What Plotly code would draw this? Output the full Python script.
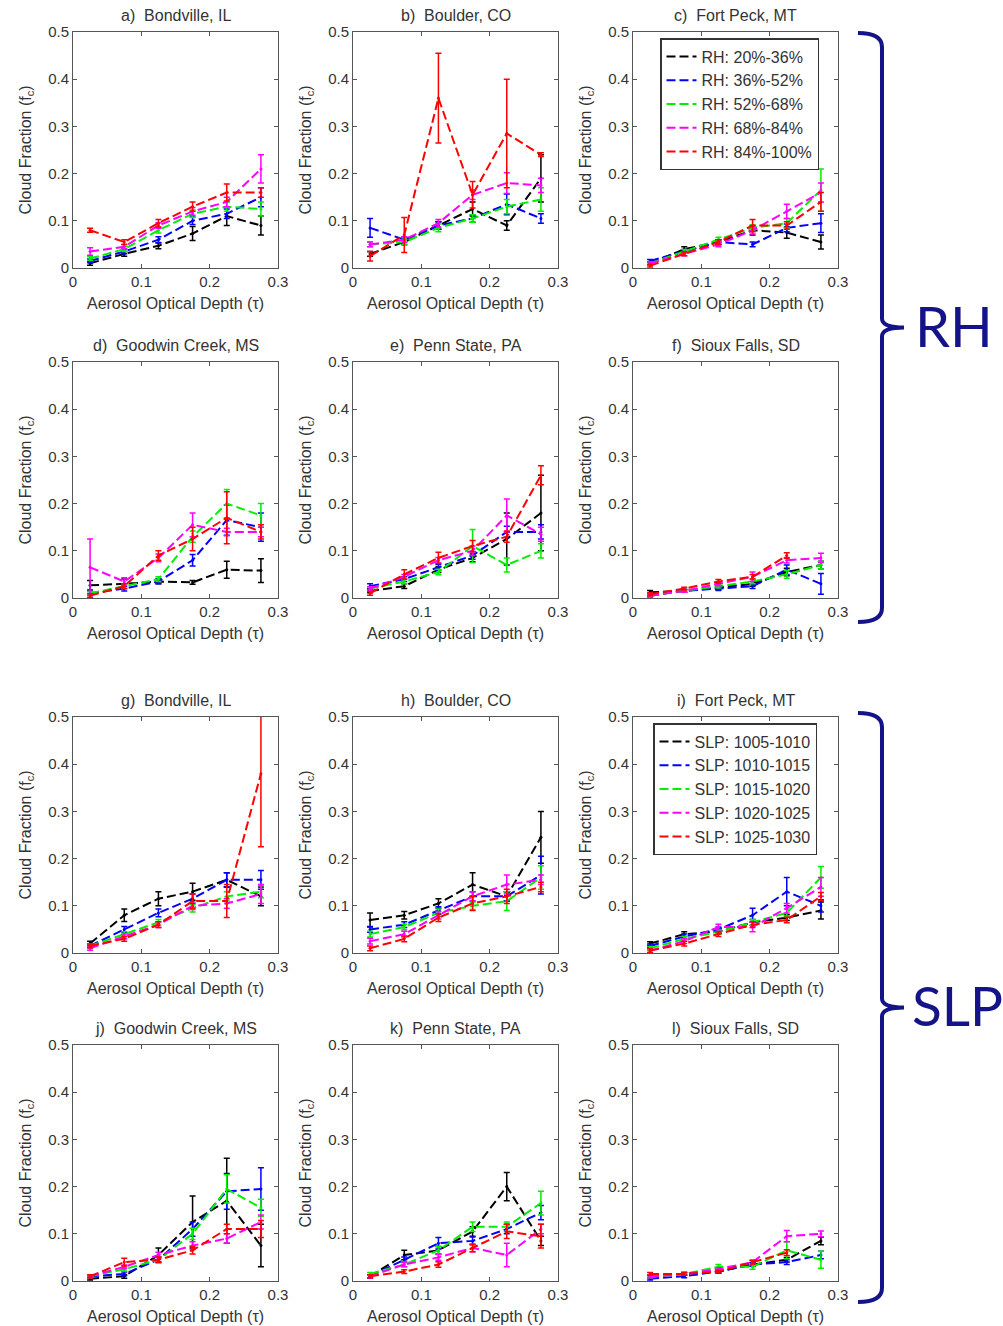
import plotly.graph_objects as go

# Aerosol optical depth bin centres
aod = [0.025, 0.075, 0.125, 0.175, 0.225, 0.275]

colors = ["#000000", "#0000ff", "#00ee00", "#ff00ff", "#ff0000"]
rh_labels = ["RH: 20%-36%", "RH: 36%-52%", "RH: 52%-68%", "RH: 68%-84%", "RH: 84%-100%"]
slp_labels = ["SLP: 1005-1010", "SLP: 1010-1015", "SLP: 1015-1020", "SLP: 1020-1025", "SLP: 1025-1030"]

titles = ["a)  Bondville, IL", "b)  Boulder, CO", "c)  Fort Peck, MT",
          "d)  Goodwin Creek, MS", "e)  Penn State, PA", "f)  Sioux Falls, SD",
          "g)  Bondville, IL", "h)  Boulder, CO", "i)  Fort Peck, MT",
          "j)  Goodwin Creek, MS", "k)  Penn State, PA", "l)  Sioux Falls, SD"]

# Cloud fraction per panel: five series (black, blue, green, magenta, red)
cf_a = [[0.010, 0.030, 0.047, 0.073, 0.110, 0.090],
        [0.015, 0.035, 0.060, 0.100, 0.115, 0.150],
        [0.020, 0.040, 0.080, 0.115, 0.130, 0.125],
        [0.035, 0.045, 0.090, 0.120, 0.140, 0.210],
        [0.080, 0.055, 0.095, 0.130, 0.160, 0.160]]
err_a = [[0.004, 0.005, 0.006, 0.015, 0.020, 0.020],
         [0.004, 0.005, 0.006, 0.008, 0.010, 0.020],
         [0.004, 0.005, 0.006, 0.008, 0.010, 0.015],
         [0.008, 0.005, 0.006, 0.008, 0.010, 0.030],
         [0.004, 0.005, 0.008, 0.010, 0.018, 0.010]]

cf_b = [[0.030, 0.055, 0.090, 0.125, 0.090, 0.190],
        [0.085, 0.060, 0.090, 0.105, 0.135, 0.105],
        [0.050, 0.055, 0.085, 0.105, 0.130, 0.145],
        [0.050, 0.060, 0.095, 0.155, 0.180, 0.175],
        [0.025, 0.070, 0.360, 0.155, 0.285, 0.240]]
err_b = [[0.005, 0.006, 0.008, 0.015, 0.010, 0.050],
         [0.020, 0.006, 0.008, 0.008, 0.022, 0.010],
         [0.005, 0.006, 0.008, 0.008, 0.015, 0.025],
         [0.005, 0.006, 0.008, 0.010, 0.022, 0.015],
         [0.010, 0.037, 0.095, 0.028, 0.115, 0.004]]

cf_c = [[0.010, 0.040, 0.055, 0.080, 0.075, 0.055],
        [0.015, 0.035, 0.055, 0.050, 0.085, 0.095],
        [0.010, 0.035, 0.060, 0.085, 0.095, 0.165],
        [0.010, 0.030, 0.050, 0.080, 0.120, 0.160],
        [0.005, 0.030, 0.055, 0.090, 0.090, 0.140]]
err_c = [[0.003, 0.005, 0.005, 0.010, 0.012, 0.015],
         [0.003, 0.004, 0.005, 0.005, 0.008, 0.020],
         [0.003, 0.004, 0.005, 0.006, 0.010, 0.045],
         [0.003, 0.004, 0.005, 0.008, 0.015, 0.020],
         [0.003, 0.004, 0.005, 0.013, 0.008, 0.020]]

cf_d = [[0.027, 0.030, 0.035, 0.033, 0.060, 0.058],
        [0.010, 0.020, 0.035, 0.080, 0.165, 0.150],
        [0.010, 0.025, 0.040, 0.130, 0.200, 0.175],
        [0.065, 0.035, 0.085, 0.155, 0.140, 0.140],
        [0.005, 0.025, 0.090, 0.125, 0.170, 0.140]]
err_d = [[0.010, 0.010, 0.005, 0.004, 0.018, 0.025],
         [0.004, 0.005, 0.005, 0.012, 0.032, 0.030],
         [0.004, 0.005, 0.005, 0.012, 0.030, 0.025],
         [0.060, 0.008, 0.008, 0.025, 0.008, 0.010],
         [0.004, 0.005, 0.010, 0.025, 0.055, 0.015]]

cf_e = [[0.015, 0.025, 0.060, 0.085, 0.125, 0.180],
        [0.025, 0.040, 0.065, 0.090, 0.140, 0.140],
        [0.020, 0.035, 0.055, 0.110, 0.070, 0.100],
        [0.020, 0.045, 0.080, 0.100, 0.175, 0.135],
        [0.010, 0.050, 0.085, 0.110, 0.130, 0.260]]
err_e = [[0.004, 0.005, 0.006, 0.008, 0.055, 0.080],
         [0.005, 0.005, 0.006, 0.008, 0.012, 0.015],
         [0.004, 0.005, 0.006, 0.035, 0.015, 0.015],
         [0.004, 0.005, 0.006, 0.010, 0.035, 0.015],
         [0.004, 0.010, 0.012, 0.012, 0.012, 0.020]]

cf_f = [[0.012, 0.015, 0.022, 0.030, 0.055, 0.070],
        [0.005, 0.015, 0.020, 0.025, 0.060, 0.030],
        [0.005, 0.015, 0.025, 0.035, 0.050, 0.070],
        [0.005, 0.015, 0.030, 0.045, 0.080, 0.085],
        [0.008, 0.020, 0.035, 0.045, 0.090, None]]
err_f = [[0.004, 0.003, 0.004, 0.005, 0.008, 0.008],
         [0.003, 0.003, 0.004, 0.005, 0.010, 0.022],
         [0.003, 0.003, 0.004, 0.005, 0.008, 0.008],
         [0.003, 0.003, 0.004, 0.010, 0.006, 0.010],
         [0.003, 0.003, 0.004, 0.005, 0.006, 0.0]]

cf_g = [[0.020, 0.080, 0.115, 0.130, 0.155, 0.120],
        [0.015, 0.050, 0.085, 0.115, 0.155, 0.155],
        [0.015, 0.040, 0.065, 0.095, 0.120, 0.130],
        [0.010, 0.035, 0.060, 0.100, 0.105, 0.125],
        [0.015, 0.030, 0.060, 0.110, 0.110, 0.380]]
err_g = [[0.005, 0.013, 0.015, 0.018, 0.015, 0.020],
         [0.004, 0.006, 0.008, 0.010, 0.015, 0.020],
         [0.004, 0.005, 0.006, 0.008, 0.010, 0.013],
         [0.004, 0.005, 0.006, 0.008, 0.010, 0.020],
         [0.004, 0.005, 0.006, 0.015, 0.035, 0.155]]

cf_h = [[0.070, 0.080, 0.105, 0.145, 0.120, 0.245],
        [0.050, 0.060, 0.090, 0.120, 0.120, 0.165],
        [0.040, 0.055, 0.085, 0.100, 0.110, 0.160],
        [0.025, 0.040, 0.080, 0.120, 0.145, 0.155],
        [0.010, 0.030, 0.075, 0.105, 0.120, 0.140]]
err_h = [[0.015, 0.008, 0.010, 0.025, 0.010, 0.055],
         [0.006, 0.006, 0.008, 0.010, 0.010, 0.040],
         [0.006, 0.006, 0.008, 0.008, 0.020, 0.025],
         [0.006, 0.006, 0.008, 0.010, 0.020, 0.010],
         [0.005, 0.006, 0.008, 0.015, 0.015, 0.010]]

cf_i = [[0.020, 0.040, 0.045, 0.065, 0.075, 0.090],
        [0.015, 0.035, 0.050, 0.080, 0.130, 0.100],
        [0.010, 0.030, 0.045, 0.065, 0.085, 0.160],
        [0.005, 0.025, 0.055, 0.055, 0.095, 0.140],
        [0.005, 0.020, 0.040, 0.060, 0.070, 0.120]]
err_i = [[0.004, 0.005, 0.005, 0.006, 0.006, 0.018],
         [0.004, 0.005, 0.005, 0.015, 0.030, 0.013],
         [0.004, 0.005, 0.005, 0.006, 0.008, 0.023],
         [0.004, 0.005, 0.006, 0.010, 0.010, 0.020],
         [0.004, 0.005, 0.005, 0.006, 0.006, 0.008]]

cf_j = [[0.005, 0.010, 0.055, 0.125, 0.170, 0.075],
        [0.010, 0.015, 0.045, 0.110, 0.190, 0.195],
        [0.010, 0.025, 0.045, 0.100, 0.195, 0.155],
        [0.010, 0.030, 0.055, 0.075, 0.090, 0.125],
        [0.010, 0.040, 0.045, 0.065, 0.110, 0.110]]
err_j = [[0.003, 0.004, 0.015, 0.055, 0.090, 0.045],
         [0.003, 0.004, 0.006, 0.015, 0.038, 0.045],
         [0.003, 0.004, 0.006, 0.012, 0.030, 0.018],
         [0.003, 0.004, 0.006, 0.008, 0.010, 0.015],
         [0.003, 0.008, 0.006, 0.008, 0.010, 0.018]]

cf_k = [[0.010, 0.055, 0.065, 0.105, 0.200, 0.085],
        [0.010, 0.045, 0.080, 0.085, 0.110, 0.145],
        [0.015, 0.035, 0.065, 0.115, 0.115, 0.165],
        [0.010, 0.035, 0.050, 0.070, 0.055, 0.110],
        [0.010, 0.020, 0.035, 0.070, 0.105, 0.095]]
err_k = [[0.003, 0.010, 0.008, 0.010, 0.030, 0.010],
         [0.003, 0.006, 0.012, 0.008, 0.010, 0.015],
         [0.003, 0.005, 0.008, 0.010, 0.010, 0.025],
         [0.003, 0.005, 0.006, 0.008, 0.025, 0.010],
         [0.003, 0.004, 0.006, 0.008, 0.015, 0.025]]

cf_l = [[0.010, 0.015, 0.020, 0.035, 0.045, 0.085],
        [0.005, 0.010, 0.020, 0.035, 0.040, 0.055],
        [0.010, 0.015, 0.030, 0.030, 0.065, 0.045],
        [0.010, 0.015, 0.025, 0.040, 0.095, 0.100],
        [0.015, 0.015, 0.020, 0.040, 0.060, None]]
err_l = [[0.003, 0.003, 0.003, 0.004, 0.005, 0.008],
         [0.003, 0.003, 0.003, 0.004, 0.005, 0.008],
         [0.003, 0.003, 0.005, 0.005, 0.018, 0.018],
         [0.003, 0.003, 0.003, 0.004, 0.012, 0.006],
         [0.003, 0.003, 0.003, 0.004, 0.006, 0.0]]

panels = [(cf_a, err_a), (cf_b, err_b), (cf_c, err_c),
          (cf_d, err_d), (cf_e, err_e), (cf_f, err_f),
          (cf_g, err_g), (cf_h, err_h), (cf_i, err_i),
          (cf_j, err_j), (cf_k, err_k), (cf_l, err_l)]

W, H = 1003, 1326
col_left = [73, 353, 633]
row_top = [32, 362, 717, 1045]
pw, ph = 205, 236

def px(x):
    return x / W

def py(y):
    return 1 - y / H

FONT = "Liberation Sans, Arial, sans-serif"
TXT = "#333333"
NAVY = "#141488"
DASH = "9px,4px"

fig = go.Figure()
annotations = []

for i, (cf, err) in enumerate(panels):
    r, c = divmod(i, 3)
    n = i + 1
    xa = "x" if n == 1 else f"x{n}"
    ya = "y" if n == 1 else f"y{n}"
    x0, y0 = col_left[c], row_top[r]
    axis_common = dict(
        showline=True, linecolor="#555555", linewidth=1, mirror="ticks",
        ticks="inside", ticklen=4, tickcolor="#555555", showgrid=False,
        zeroline=False, automargin=False,
        tickfont=dict(family=FONT, size=15, color=TXT),
    )
    fig.layout[f"xaxis{'' if n == 1 else n}"] = dict(
        domain=[px(x0), px(x0 + pw)], anchor=ya, range=[0, 0.3],
        tickvals=[0, 0.1, 0.2, 0.3], ticktext=["0", "0.1", "0.2", "0.3"],
        title=dict(text="Aerosol Optical Depth (τ)", standoff=8,
                   font=dict(family=FONT, size=16, color=TXT)),
        **axis_common)
    fig.layout[f"yaxis{'' if n == 1 else n}"] = dict(
        domain=[py(y0 + ph), py(y0)], anchor=xa, range=[0, 0.5],
        tickvals=[0, 0.1, 0.2, 0.3, 0.4, 0.5],
        ticktext=["0", "0.1", "0.2", "0.3", "0.4", "0.5"],
        title=dict(text="Cloud Fraction (f<sub>c</sub>)", standoff=12,
                   font=dict(family=FONT, size=16, color=TXT)),
        **axis_common)
    annotations.append(dict(
        text=titles[i], x=px(x0 + pw / 2), y=py(y0 - 6), xref="paper", yref="paper",
        xanchor="center", yanchor="bottom", showarrow=False,
        font=dict(family=FONT, size=16, color=TXT)))

    for s in range(5):
        fig.add_trace(go.Scatter(
            x=aod, y=cf[s], xaxis=xa, yaxis=ya, mode="lines+markers",
            showlegend=False,
            line=dict(color=colors[s], width=2, dash=DASH),
            marker=dict(color=colors[s], size=3),
            error_y=dict(type="data", array=err[s], color=colors[s],
                         thickness=1.5, width=3),
        ))

# Legend-only entries (plain dashed line samples)
for lg, labels, xa, ya in (("legend", rh_labels, "x3", "y3"),
                           ("legend2", slp_labels, "x9", "y9")):
    for s in range(5):
        fig.add_trace(go.Scatter(
            x=[None], y=[None], xaxis=xa, yaxis=ya, mode="lines",
            name=labels[s], legend=lg, showlegend=True,
            line=dict(color=colors[s], width=2, dash=DASH),
        ))

legend_style = dict(
    xanchor="left", yanchor="top", bgcolor="white", bordercolor="#333333",
    borderwidth=1.5, font=dict(family=FONT, size=16, color=TXT),
    tracegroupgap=0, itemwidth=30,
)

# Curly braces grouping the RH and SLP rows
def brace(ytop, ybot, xl=858, xv=882, xp=904):
    ym = (ytop + ybot) / 2
    pts = [
        ("M", [(xl, ytop)]),
        ("Q", [(xv, ytop), (xv, ytop + 14)]),
        ("L", [(xv, ym - 9)]),
        ("Q", [(xv, ym), (xp, ym)]),
        ("Q", [(xv, ym), (xv, ym + 9)]),
        ("L", [(xv, ybot - 14)]),
        ("Q", [(xv, ybot), (xl, ybot)]),
    ]
    d = ""
    for cmd, ps in pts:
        d += cmd + " " + " ".join(f"{px(a):.5f},{py(b):.5f}" for a, b in ps) + " "
    return dict(type="path", path=d.strip(), xref="paper", yref="paper",
                line=dict(color=NAVY, width=4))

shapes = [brace(33, 622), brace(713, 1302)]

annotations.append(dict(text="RH", x=px(954), y=py(325), xref="paper", yref="paper",
                        xanchor="center", yanchor="middle", showarrow=False,
                        font=dict(family="Lato, sans-serif", size=56, color=NAVY)))
annotations.append(dict(text="SLP", x=px(957), y=py(1005), xref="paper", yref="paper",
                        xanchor="center", yanchor="middle", showarrow=False,
                        font=dict(family="Lato, sans-serif", size=55, color=NAVY)))

fig.update_layout(
    width=W, height=H,
    margin=dict(l=0, r=0, t=0, b=0, pad=0, autoexpand=False),
    paper_bgcolor="white", plot_bgcolor="white",
    annotations=annotations, shapes=shapes,
    legend=dict(x=px(660), y=py(38), **legend_style),
    legend2=dict(x=px(653), y=py(723), **legend_style),
)

fig.write_html("out.html")
